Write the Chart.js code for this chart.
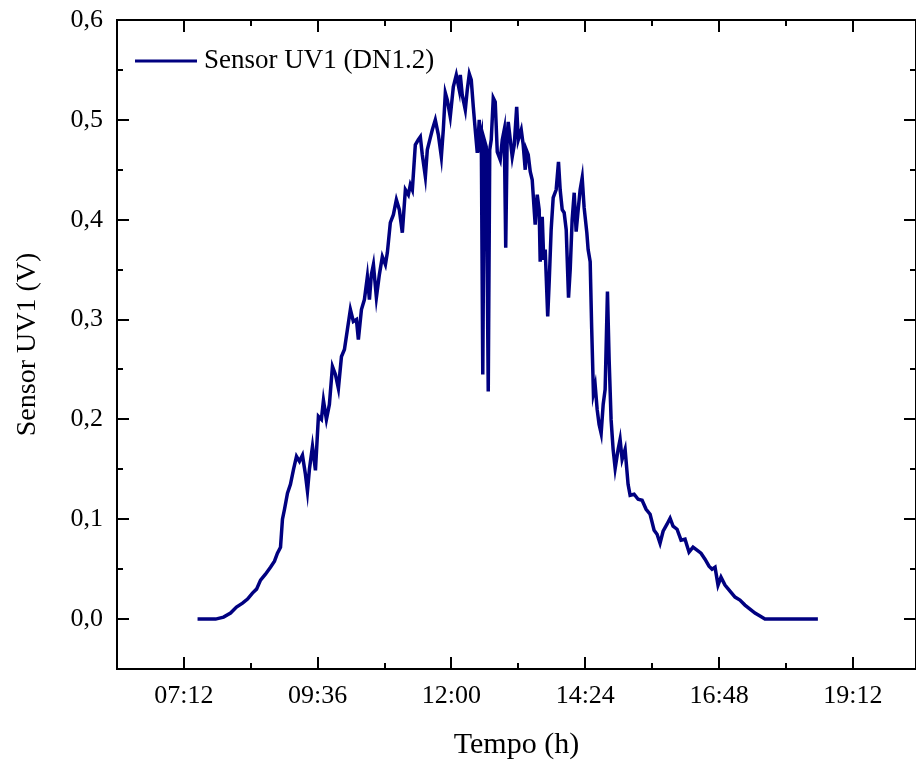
<!DOCTYPE html>
<html>
<head>
<meta charset="utf-8">
<script src="https://cdn.jsdelivr.net/npm/chart.js@4"></script>
<style>
  html, body { margin: 0; padding: 0; background: #fff; }
  #wrap { width: 916px; height: 763px; }
</style>
</head>
<body>
<div id="wrap"><canvas id="uvChart" width="916" height="763"></canvas></div>
<script>
// time of day in minutes after midnight
const times = [
  446.7, 466.1, 474.7, 482.2, 488.6, 495.1, 500.5, 505.8, 510.2, 514.5,
  519.8, 525.2, 529.5, 532.7, 536.0, 538.1, 540.3, 543.5, 546.7, 550.0,
  553.2, 556.4, 559.6, 562.8, 565.0, 567.1, 570.4, 573.6, 576.8, 580.0,
  582.2, 585.4, 588.6, 591.9, 595.1, 598.3, 601.6, 604.8, 608.0, 611.2,
  614.4, 617.7, 619.8, 623.1, 626.3, 629.5, 631.7, 633.8, 636.0, 639.2,
  642.4, 645.6, 648.9, 651.0, 654.2, 657.5, 660.7, 663.9, 667.1, 670.4,
  673.6, 675.7, 677.9, 681.1, 684.3, 686.5, 688.6, 691.9, 694.0, 697.2,
  699.4, 702.6, 705.9, 709.1, 711.2, 713.4, 715.5, 718.7, 722.0, 725.2,
  728.4, 729.5, 731.6, 734.9, 737.0, 739.2, 741.3, 743.5, 745.6, 747.8,
  749.9, 751.0, 752.1, 753.7, 755.3, 757.4, 759.6, 761.2, 762.8, 765.0,
  767.1, 769.3, 772.5, 774.7, 776.8, 778.4, 780.0, 781.1, 783.3, 785.4,
  787.6, 790.2, 791.9, 795.1, 797.2, 799.4, 800.5, 802.6, 804.8, 806.9,
  810.1, 812.3, 814.4, 815.5, 817.7, 819.3, 820.9, 823.6, 825.2, 827.3,
  829.5, 832.7, 835.2, 837.0, 839.2, 841.3, 843.5, 846.0, 847.8, 849.9,
  852.1, 854.2, 856.4, 858.5, 860.7, 862.8, 865.7, 867.1, 869.3, 870.9,
  872.8, 874.7, 876.8, 878.9, 881.1, 883.3, 885.4, 887.9, 889.7, 891.8,
  894.0, 896.2, 899.4, 901.5, 903.7, 906.9, 910.1, 912.3, 916.6, 920.9,
  925.2, 929.5, 933.8, 938.1, 941.3, 944.5, 947.8, 952.0, 955.3, 958.5,
  962.8, 967.1, 971.4, 975.7, 980.0, 984.3, 988.6, 992.9, 997.2, 1000.5,
  1003.7, 1006.9, 1010.1, 1014.4, 1019.8, 1025.2, 1030.5, 1035.9, 1041.3, 1046.7,
  1052.1, 1057.4, 1114.4
];
const uv1 = [
  0, 0, 0.002, 0.006, 0.012, 0.016, 0.02, 0.026, 0.03, 0.039,
  0.045, 0.052, 0.058, 0.066, 0.072, 0.1, 0.11, 0.126, 0.135, 0.15,
  0.163, 0.158, 0.164, 0.145, 0.128, 0.15, 0.173, 0.149, 0.203, 0.2,
  0.219, 0.2, 0.215, 0.253, 0.245, 0.231, 0.263, 0.27, 0.29, 0.31,
  0.298, 0.30, 0.28, 0.31, 0.32, 0.343, 0.32, 0.345, 0.355, 0.322,
  0.345, 0.363, 0.355, 0.367, 0.397, 0.405, 0.42, 0.41, 0.387, 0.43,
  0.425, 0.435, 0.43, 0.475, 0.48, 0.483, 0.465, 0.443, 0.47, 0.482,
  0.49, 0.50, 0.485, 0.463, 0.49, 0.527, 0.52, 0.503, 0.533, 0.545,
  0.53, 0.545, 0.525, 0.51, 0.53, 0.546, 0.54, 0.513, 0.49, 0.467,
  0.5, 0.48, 0.485, 0.245, 0.48, 0.473, 0.228, 0.47, 0.48, 0.522,
  0.518, 0.468, 0.46, 0.48, 0.49, 0.372, 0.485, 0.498, 0.48, 0.463,
  0.475, 0.513, 0.48, 0.49, 0.475, 0.45, 0.47, 0.465, 0.448, 0.44,
  0.395, 0.425, 0.41, 0.358, 0.403, 0.36, 0.37, 0.303, 0.338, 0.39,
  0.422, 0.43, 0.458, 0.43, 0.41, 0.407, 0.39, 0.322, 0.35, 0.40,
  0.427, 0.388, 0.41, 0.43, 0.442, 0.412, 0.387, 0.37, 0.358, 0.292,
  0.226, 0.234, 0.21, 0.195, 0.186, 0.215, 0.23, 0.328, 0.26, 0.2,
  0.17, 0.151, 0.17, 0.18, 0.16, 0.17, 0.135, 0.124, 0.125, 0.12,
  0.119, 0.11, 0.105, 0.089, 0.085, 0.076, 0.088, 0.095, 0.101, 0.093,
  0.09, 0.079, 0.08, 0.067, 0.072, 0.069, 0.066, 0.06, 0.053, 0.05,
  0.052, 0.034, 0.042, 0.034, 0.028, 0.022, 0.019, 0.014, 0.01, 0.006,
  0.003, 0, 0
];
const xTickValues = [432, 576, 720, 864, 1008, 1152];
const xTickLabels = ["07:12", "09:36", "12:00", "14:24", "16:48", "19:12"];
const yTickValues = [0, 0.1, 0.2, 0.3, 0.4, 0.5, 0.6];
const seriesLabel = "Sensor UV1 (DN1.2)";

const serif = "'Liberation Serif', 'Times New Roman', serif";
const lineColor = "#000080";

const frameTicks = {
  id: "frameTicks",
  afterDraw(chart) {
    const { ctx, chartArea: a } = chart;
    const xs = chart.scales.x, ys = chart.scales.y;
    ctx.save();
    ctx.strokeStyle = "#000";
    ctx.lineWidth = 2;
    ctx.strokeRect(a.left, a.top, a.right - a.left, a.bottom - a.top);

    // x ticks, bottom and top, pointing inward
    const xMinor = xTickValues.map(v => v + 72);
    ctx.beginPath();
    xTickValues.forEach(v => {
      const px = Math.round(xs.getPixelForValue(v));
      ctx.moveTo(px, a.bottom); ctx.lineTo(px, a.bottom - 12);
      ctx.moveTo(px, a.top); ctx.lineTo(px, a.top + 12);
    });
    xMinor.forEach(v => {
      if (v >= xs.max) return;
      const px = Math.round(xs.getPixelForValue(v));
      ctx.moveTo(px, a.bottom); ctx.lineTo(px, a.bottom - 6);
      ctx.moveTo(px, a.top); ctx.lineTo(px, a.top + 6);
    });
    // y ticks, left and right
    yTickValues.forEach(v => {
      const py = Math.round(ys.getPixelForValue(v));
      ctx.moveTo(a.left, py); ctx.lineTo(a.left + 12, py);
      ctx.moveTo(a.right, py); ctx.lineTo(a.right - 12, py);
      const pm = Math.round(ys.getPixelForValue(v - 0.05));
      if (v - 0.05 > ys.min) {
        ctx.moveTo(a.left, pm); ctx.lineTo(a.left + 6, pm);
        ctx.moveTo(a.right, pm); ctx.lineTo(a.right - 6, pm);
      }
    });
    ctx.stroke();

    // legend
    ctx.strokeStyle = lineColor;
    ctx.lineWidth = 3;
    ctx.beginPath();
    ctx.moveTo(135, 61); ctx.lineTo(197, 61);
    ctx.stroke();
    ctx.fillStyle = "#000";
    ctx.font = "27px " + serif;
    ctx.textBaseline = "middle";
    ctx.fillText(seriesLabel, 204, 61);
    ctx.restore();
  }
};

const ctx = document.getElementById("uvChart").getContext("2d");
new Chart(ctx, {
  type: "line",
  data: {
    datasets: [{
      label: seriesLabel,
      data: times.map((t, i) => ({ x: t, y: uv1[i] })),
      borderColor: lineColor,
      borderWidth: 3.5,
      pointRadius: 0,
      tension: 0,
      fill: false
    }]
  },
  options: {
    responsive: false,
    animation: false,
    layout: { padding: { top: 20, right: 0, left: 0, bottom: 0 } },
    plugins: { legend: { display: false }, tooltip: { enabled: false } },
    scales: {
      x: {
        type: "linear",
        min: 360,
        max: 1220,
        afterBuildTicks: s => { s.ticks = xTickValues.map(v => ({ value: v })); },
        afterFit: s => { s.height = 94; s.paddingLeft = 0; s.paddingRight = 0; },
        grid: { display: false, drawTicks: false },
        border: { display: false },
        ticks: {
          padding: 12,
          color: "#000",
          font: { family: serif, size: 26 },
          maxRotation: 0,
          callback: v => xTickLabels[xTickValues.indexOf(v)]
        },
        title: {
          display: true,
          text: "Tempo (h)",
          color: "#000",
          font: { family: serif, size: 30 },
          padding: { top: 0, bottom: 0 }
        }
      },
      y: {
        min: -0.05,
        max: 0.6,
        afterBuildTicks: s => { s.ticks = yTickValues.map(v => ({ value: v })); },
        afterFit: s => { s.width = 117; s.paddingTop = 0; s.paddingBottom = 0; },
        grid: { display: false, drawTicks: false },
        border: { display: false },
        ticks: {
          padding: 14,
          color: "#000",
          font: { family: serif, size: 26 },
          callback: v => v.toFixed(1).replace(".", ",")
        },
        title: {
          display: true,
          text: "Sensor UV1 (V)",
          color: "#000",
          font: { family: serif, size: 28 },
          padding: { top: 11, bottom: 0 }
        }
      }
    }
  },
  plugins: [frameTicks]
});
</script>
</body>
</html>
